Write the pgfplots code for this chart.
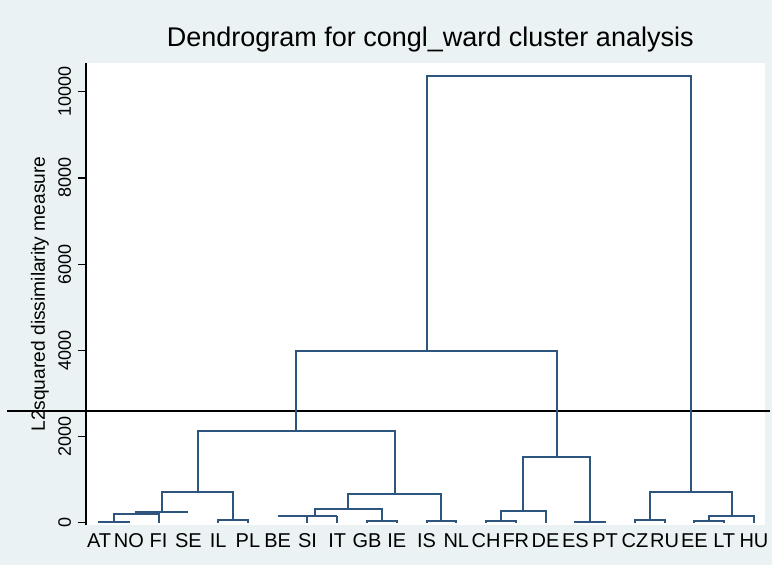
\documentclass[border=0pt]{standalone}
\usepackage{pgfplots}
\pgfplotsset{compat=1.18}
\usepackage{fontspec}
\setmainfont{Liberation Sans}
\definecolor{bg}{RGB}{234,242,243}
\definecolor{dendro}{RGB}{45,85,125}
\begin{document}
\begin{tikzpicture}
\path[use as bounding box, fill=bg] (0,0) rectangle (386pt,282.5pt);
\begin{axis}[
  at={(43pt,20pt)}, anchor=south west,
  scale only axis, width=339.5pt, height=231pt,
  xmin=0.56, xmax=23.37, ymin=-50, ymax=10666,
  clip=false,
  axis background/.style={fill=white},
  axis y line*=left, axis x line*=bottom,
  x axis line style={draw=none},
  y axis line style={black, line width=0.7pt},
  xtick={1,...,23},
  xticklabels={AT,NO,FI,SE,IL,PL,BE,SI,IT,GB,IE,IS,NL,CH,FR,DE,ES,PT,CZ,RU,EE,LT,HU},
  xtick style={draw=none},
  xticklabel style={font=\fontsize{10}{10}\selectfont, anchor=base, yshift=-7.5pt},
  ytick={0,2000,4000,6000,8000,10000},
  scaled y ticks=false,
  tick align=outside, major tick length=4pt,
  ytick style={black, line width=0.6pt},
  yticklabel style={rotate=90, anchor=south, font=\fontsize{9}{9}\selectfont},
  /pgf/number format/assume math mode=true,
  /pgf/number format/set thousands separator={},
  ylabel={L2squared dissimilarity measure},
  ylabel style={at={(axis description cs:-0.068,0.5)}, anchor=center, font=\fontsize{9.6}{9.6}\selectfont},
  title={Dendrogram for congl\_ward cluster analysis},
  title style={at={(axis description cs:0.507,1)}, anchor=base, yshift=2pt, font=\fontsize{13.5}{13.5}\selectfont},
  ln/.style={dendro, line width=1pt, mark=none},
]
% cut line
\addplot[black, line width=1pt, mark=none] coordinates {(-2.09,2590) (23.55,2590)};
% left group
\addplot[ln] coordinates {(1,0) (1,20) (2,20) (2,0)};
\addplot[ln] coordinates {(1.5,20) (1.5,200) (3,200) (3,0)};
\addplot[ln] coordinates {(2.25,200) (2.25,250) (4,250)};
\addplot[ln] coordinates {(5,0) (5,60) (6,60) (6,0)};
\addplot[ln] coordinates {(3.125,250) (3.125,715) (5.5,715) (5.5,60)};
% BE SI IT GB IE IS NL
\addplot[ln] coordinates {(7,155) (9,155)};
\addplot[ln] coordinates {(8,0) (8,155)};
\addplot[ln] coordinates {(9,0) (9,155)};
\addplot[ln] coordinates {(10,0) (10,40) (11,40) (11,0)};
\addplot[ln] coordinates {(8.25,155) (8.25,318) (10.5,318) (10.5,40)};
\addplot[ln] coordinates {(12,0) (12,40) (13,40) (13,0)};
\addplot[ln] coordinates {(9.375,318) (9.375,670) (12.5,670) (12.5,40)};
\addplot[ln] coordinates {(4.31,715) (4.31,2135) (10.94,2135) (10.94,670)};
% CH FR DE ES PT
\addplot[ln] coordinates {(14,0) (14,45) (15,45) (15,0)};
\addplot[ln] coordinates {(14.5,45) (14.5,270) (16,270) (16,0)};
\addplot[ln] coordinates {(17,0) (17,20) (18,20) (18,0)};
\addplot[ln] coordinates {(15.25,270) (15.25,1530) (17.5,1530) (17.5,20)};
\addplot[ln] coordinates {(7.62,2135) (7.62,3990) (16.375,3990) (16.375,1530)};
% CZ RU EE LT HU
\addplot[ln] coordinates {(19,0) (19,60) (20,60) (20,0)};
\addplot[ln] coordinates {(21,0) (21,40) (22,40) (22,0)};
\addplot[ln] coordinates {(21.5,40) (21.5,160) (23,160) (23,0)};
\addplot[ln] coordinates {(19.5,60) (19.5,705) (22.25,705) (22.25,160)};
% top
\addplot[ln] coordinates {(12,3990) (12,10365) (20.875,10365) (20.875,705)};
\end{axis}
\end{tikzpicture}
\end{document}
